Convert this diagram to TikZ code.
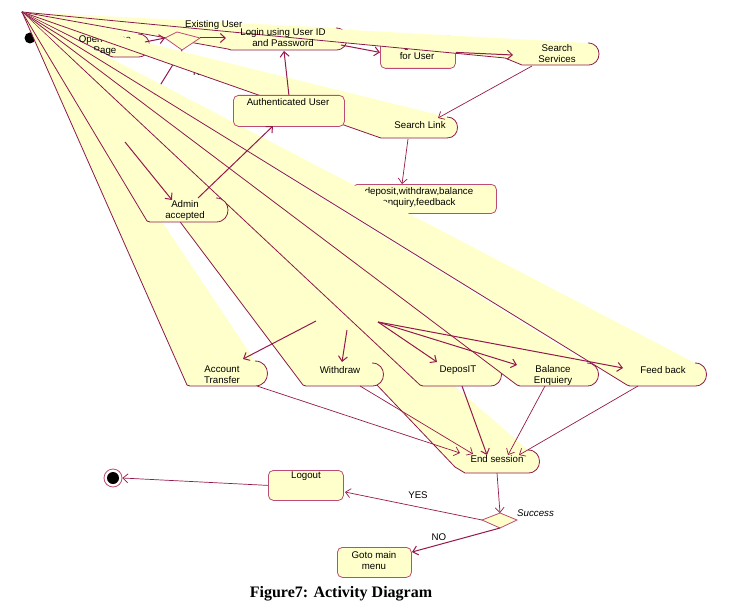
\documentclass[tikz,border=0pt]{standalone}
\usepackage{fontspec}
\setmainfont{Liberation Sans}
\newfontfamily\capfont{Liberation Serif}
\usetikzlibrary{arrows.meta}
\definecolor{fanfill}{RGB}{255,255,204}
\definecolor{fanline}{RGB}{140,25,75}
\definecolor{boxline}{RGB}{190,75,115}
\definecolor{arrowcol}{RGB}{150,25,75}
\newcommand{\fanpart}[6]{%
 \fill[fanfill] (apex) -- (#1,#2) -- (#3,#6) -- (#4,#6) .. controls ({#4+0.667*(#6-#5)},#6) and ({#4+0.667*(#6-#5)},#5) .. (#4,#5) -- cycle;
 \draw[fanedge] (apex) -- (#1,#2) -- (#3,#6) -- (#4,#6) .. controls ({#4+0.667*(#6-#5)},#6) and ({#4+0.667*(#6-#5)},#5) .. (#4,#5);}
\tikzset{
 fanedge/.style={draw=fanline, line width=0.8pt},
 box/.style={draw=boxline, fill=fanfill, rounded corners=5pt, line width=0.8pt, inner sep=0pt, anchor=north west},
 txt/.style={font=\fontsize{9.7}{11}\selectfont, align=center, inner sep=0pt},
 arr/.style={draw=arrowcol, line width=1pt, -{Straight Barb[length=5pt,width=9pt]}},
 thinarr/.style={draw=arrowcol, line width=0.7pt, -{Straight Barb[length=5pt,width=9pt]}},
 dia/.style={draw=boxline, fill=fanfill, line width=0.8pt}
}
\begin{document}
\begin{tikzpicture}[x=1pt,y=-1pt]
\useasboundingbox (0,0) rectangle (738,615);
\fill[white] (0,0) rectangle (738,615);
\coordinate (apex) at (22,12);
% coordinates
\coordinate (d1l) at (165,38); \coordinate (d1t) at (177,32);
\coordinate (d1r) at (200,38); \coordinate (d1b) at (182,50);
\coordinate (d2l) at (482,520); \coordinate (d2t) at (500,513);
\coordinate (d2r) at (517,520); \coordinate (d2b) at (500,528);
\coordinate (oh-w) at (72,45); \coordinate (oh-e) at (145,42);
\coordinate (login-w) at (226,38); \coordinate (login-e) at (341,45); \coordinate (login-s) at (284,51);
\coordinate (ss-w) at (513,55); \coordinate (ss-s) at (532,66);
\coordinate (sl-n) at (438,118); \coordinate (sl-s) at (408,139);
\coordinate (dbox-n) at (402,184);
\coordinate (auth-s) at (273,126);
\coordinate (admin-ne) at (198,198); \coordinate (admin-n) at (172,200);
\coordinate (nu-bend) at (125,142);
\coordinate (f-at) at (316,321); \coordinate (at-n) at (243,359);
\coordinate (f-wd) at (347,330); \coordinate (wd-n) at (342,362);
\coordinate (f-dep) at (378,322); \coordinate (dep-n) at (437,362);
\coordinate (bal-n) at (517,365); \coordinate (fb-n) at (623,368);
\coordinate (at-s) at (257,386); \coordinate (wd-s) at (360,386);
\coordinate (dep-s) at (462,386); \coordinate (bal-s) at (545,386); \coordinate (fb-s) at (638,386);
\coordinate (es-1) at (460,453); \coordinate (es-2) at (473,454); \coordinate (es-3) at (487,455);
\coordinate (es-4) at (508,455); \coordinate (es-5) at (519,455); \coordinate (es-s) at (497,473);
\coordinate (lo-e) at (345,492); \coordinate (goto-ne) at (412,552);
% initial node (partly covered)
\node[circle, fill=black, minimum size=11pt, inner sep=0pt] (init) at (30,38) {};
\draw[arr] (init) -- (oh-w);
% boxes drawn beneath the fans
\node[box, minimum width=75pt, minimum height=32pt] (lp) at (380,36) {};
\node[txt] (lptext) at (417,51) {Login page\\for User};
\node[box, minimum width=144pt, minimum height=29pt] (dbox) at (352,184) {};
\node[txt] (dboxtext) at (419,197) {deposit,withdraw,balance\\enquiry,feedback};
\node[txt, anchor=west] (newu) at (193,72) {New User};
\draw[draw=arrowcol, line width=1pt] (d1b) -- (nu-bend);
% fans
\fanpart{455}{467}{465}{528}{450}{473}
\node[txt] (es) at (497,459) {End session};
\fanpart{187}{385}{190}{255}{361}{386}
\node[txt] (at) at (222,375) {Account\\Transfer};
\fanpart{303}{385}{306}{372}{363}{386}
\node[txt] (wd) at (340,370) {Withdraw};
\fanpart{420}{385}{423}{490}{363}{386}
\node[txt] (depo) at (458,370) {DeposIT};
\fanpart{517}{385}{520}{587}{363}{386}
\node[txt] (bal) at (553,375) {Balance\\Enquiery};
\fanpart{147}{221}{150}{216}{198}{222}
\node[txt] (admin) at (185,210) {Admin\\accepted};
\fanpart{110}{56}{113}{138}{34}{57}
\node[txt] (oh) at (105,46) {Open Home\\Page};
\fanpart{228}{49}{231}{336}{28}{50}
\fanpart{505}{58}{522}{588}{43}{65}
\node[txt, anchor=west] (exist) at (185,25) {Existing User};
\node[txt] (ss) at (557,54) {Search\\Services};
\node[txt] (login) at (283,38) {Login using User ID\\and Password};
\fanpart{378}{137}{381}{447}{117}{138}
\node[txt] (sl) at (420,125) {Search Link};
\fanpart{627}{385}{630}{695}{363}{386}
\node[txt] (fb) at (663,370) {Feed back};
% top-layer nodes
\draw[dia] (d1l) -- (d1t) -- (d1r) -- (d1b) -- cycle;
\node[box, minimum width=111pt, minimum height=31pt] (auth) at (233,95) {};
\node[txt, anchor=north] (authtext) at (288,98) {Authenticated User};
\node[box, minimum width=75pt, minimum height=30pt] (logout) at (268,470) {};
\node[txt, anchor=north] (logouttext) at (306,472) {Logout};
\node[box, minimum width=74pt, minimum height=30pt] (goto) at (337,547) {};
\node[txt] (gototext) at (374,561) {Goto main\\menu};
\draw[dia] (d2l) -- (d2t) -- (d2r) -- (d2b) -- cycle;
\node[txt, anchor=west, font=\fontsize{9.7}{11}\selectfont\itshape] (succ) at (517,513) {Success};
\node[circle, draw=boxline, fill=white, line width=0.8pt, minimum size=18pt, inner sep=0pt] (final) at (113,478) {};
\fill[black] (final) circle (6pt);
% connectors
\draw[arr] (oh-e) -- (d1l);
\draw[arr] (d1r) -- (login-w);
\draw[arr] (login-e) -- (lp.west);
\draw[arr] (lp.east) -- (ss-w);
\draw[thinarr] (ss-s) -- (sl-n);
\draw[thinarr] (sl-s) -- (dbox-n);
\draw[arr] (auth.north) -- (login-s);
\draw[arr] (admin-ne) -- (auth-s);
\draw[arr] (nu-bend) -- (admin-n);
\draw[arr] (f-at) -- (at-n);
\draw[arr] (f-wd) -- (wd-n);
\draw[arr] (f-dep) -- (dep-n);
\draw[arr] (f-dep) -- (bal-n);
\draw[arr] (f-dep) -- (fb-n);
\draw[thinarr] (at-s) -- (es-1);
\draw[thinarr] (wd-s) -- (es-2);
\draw[arr] (dep-s) -- (es-3);
\draw[thinarr] (bal-s) -- (es-4);
\draw[thinarr] (fb-s) -- (es-5);
\draw[thinarr] (es-s) -- (d2t);
\draw[thinarr] (d2l) -- (lo-e);
\node[txt] (yes) at (418,495) {YES};
\draw[arr] (d2b) -- (goto-ne);
\node[txt] (no) at (439,537) {NO};
\draw[thinarr] (logout.west) -- (final.east);
\node[font=\capfont\bfseries\fontsize{16}{18}\selectfont] (cap) at (341,594) {Figure7: Activity Diagram};
\end{tikzpicture}
\end{document}
